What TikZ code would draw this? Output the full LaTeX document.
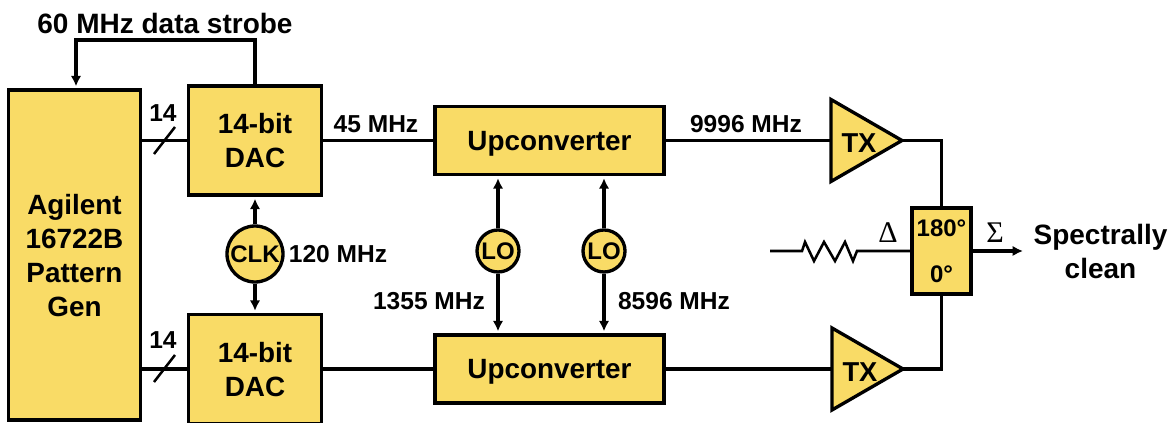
\documentclass[tikz,border=0pt]{standalone}
\usepackage{fontspec}
\setmainfont{Liberation Sans}
\newfontfamily\symbfont{Liberation Serif}
\usetikzlibrary{arrows.meta,shapes.geometric}

\begin{document}
\begin{tikzpicture}[x={(0.75pt,0pt)}, y={(0pt,-0.75pt)},
    %Option for nice arrows
    >={Latex[length=7.8pt,width=7.8pt]}, %
    inner sep=0pt,%
    wire/.style={line width=2.3pt},
    sig/.style={wire,->,shorten >=1.5pt},
    block/.style={draw=black,line width=2.5pt,fill=goldbox,align=center,text depth=-2pt,font=\fontsize{20.9}{25.5}\selectfont\bfseries},
    dacbox/.style={block,minimum width=99.75pt,minimum height=81.75pt},
    upbox/.style={block,minimum width=171.75pt,minimum height=51pt},
    osc/.style={circle,draw=black,line width=2.5pt,fill=goldbox,font=\fontsize{18}{22}\selectfont\bfseries},
    amp/.style={isosceles triangle,isosceles triangle apex angle=60,draw=black,line width=2.5pt,fill=goldbox,
        outer sep=0pt,minimum width=61.5pt,minimum height=53.25pt,anchor=apex},
    ampname/.style={font=\fontsize{20.5}{25}\selectfont\bfseries},
    big/.style={align=center,font=\fontsize{21}{25.5}\selectfont\bfseries},
    small/.style={font=\fontsize{18.4}{22}\selectfont\bfseries},
    symb/.style={font=\fontsize{22.5}{24}\selectfont\symbfont},
]
    % Colors
    \definecolor{goldbox}{HTML}{F9DB66}

    \useasboundingbox (0,0) rectangle (1174,423);

    % Blocks
    \node[block,minimum width=99pt,minimum height=247.5pt] (gen) at (74.5,255) {Agilent\\16722B\\Pattern\\Gen};
    \node[dacbox] (dac1) at (255,140.5) {14-bit\\DAC};
    \node[dacbox] (dac2) at (255,369) {14-bit\\DAC};
    \node[upbox] (up1) at (549.5,140.5) {Upconverter};
    \node[upbox] (up2) at (549.5,369) {Upconverter};
    \node[osc,minimum size=42pt] (clk) at (255,254) {CLK};
    \node[osc,minimum size=31.5pt] (lo1) at (498,251) {LO};
    \node[osc,minimum size=31.5pt] (lo2) at (604,251) {LO};
    \node[amp] (tx1) at (902,140.5) {};
    \node[amp] (tx2) at (903,369) {};
    \node[ampname] (tx1name) at (859,143) {TX};
    \node[ampname] (tx2name) at (860,372) {TX};
    \node[block,minimum width=44.25pt,minimum height=64.5pt,text depth=-4pt,font=\fontsize{18}{34.5}\selectfont\bfseries] (hyb) at (941.5,251) {180°\\0°};

    % Strobe
    \coordinate (strobe) at (76,40);
    \draw[sig] (dac1.north) |- (strobe) -- (gen.north -| strobe);
    \node[big] (strobelabel) at (165,23) {60 MHz data strobe};

    % Data lines
    \draw[wire] (gen.east |- dac1) -- (dac1.west);
    \draw[wire] (gen.east |- dac2) -- (dac2.west);
    \coordinate (slash1a) at (154,154);
    \coordinate (slash1b) at (175,127);
    \coordinate (slash2a) at (154,382);
    \coordinate (slash2b) at (175,355);
    \draw[line width=1.9pt] (slash1a) -- (slash1b);
    \draw[line width=1.9pt] (slash2a) -- (slash2b);
    \node[small] (bus1) at (163,113) {14};
    \node[small] (bus2) at (163,340) {14};

    % Clock and LOs
    \draw[sig] (clk.north) -- (dac1.south);
    \draw[sig] (clk.south) -- (dac2.north);
    \node[small] (clklabel) at (338,254) {120 MHz};
    \draw[sig] (lo1.north) -- (lo1 |- up1.south);
    \draw[sig] (lo1.south) -- (lo1 |- up2.north);
    \draw[sig] (lo2.north) -- (lo2 |- up1.south);
    \draw[sig] (lo2.south) -- (lo2 |- up2.north);
    \node[small] (lo1label) at (429,301) {1355 MHz};
    \node[small] (lo2label) at (674,301) {8596 MHz};

    % IF and RF
    \draw[wire] (dac1.east) -- (up1.west);
    \draw[wire] (dac2.east) -- (up2.west);
    \draw[wire] (up1.east) -- (tx1.lower side);
    \draw[wire] (up2.east) -- (tx2.lower side);
    \node[small] (iflabel) at (376,124) {45 MHz};
    \node[small] (rflabel) at (746,124) {9996 MHz};
    \draw[wire] (tx1.apex) -| (hyb.north);
    \draw[wire] (tx2.apex) -| (hyb.south);

    % Load
    \coordinate (load) at (770,251);
    \draw[line width=1.9pt] (load) -- (802,251) -- (805,242) -- (814,261) -- (824,242) -- (835,261) -- (845,242) -- (853,261) -- (857,251) -- (hyb.west);
    \node[symb] (delta) at (888,233) {Δ};

    % Output
    \coordinate (out) at (1023,251);
    \draw[wire,->] (hyb.east) -- (out);
    \node[symb] (sigma) at (995,233) {Σ};
    \node[big] (outlabel) at (1100.5,251) {Spectrally\\clean};
\end{tikzpicture}
\end{document}
